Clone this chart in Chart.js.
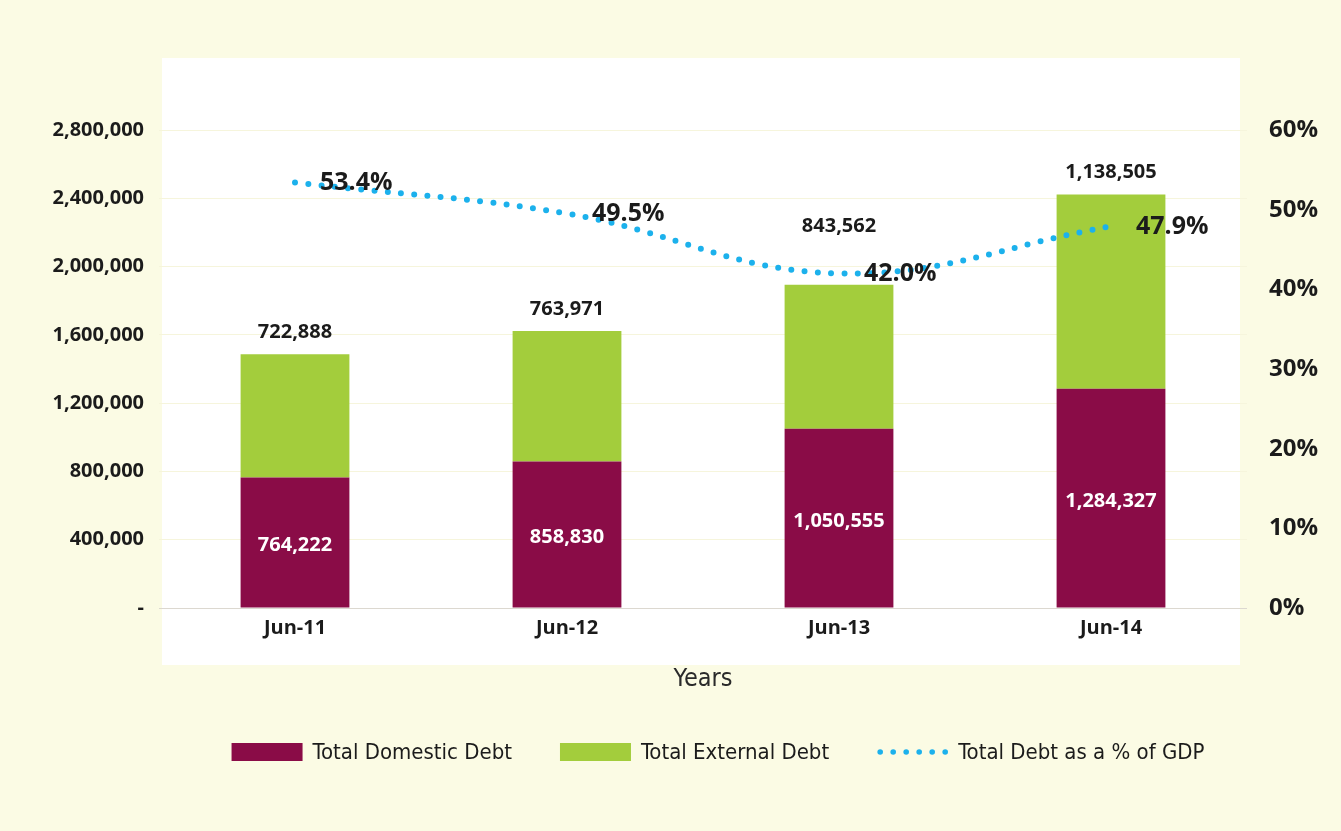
<!DOCTYPE html>
<html>
<head>
<meta charset="utf-8">
<script src="https://cdn.jsdelivr.net/npm/chart.js@4.4.1/dist/chart.umd.min.js"></script>
<style>
  html, body { margin: 0; padding: 0; background: #fbfbe4; }
  canvas { display: block; }
</style>
</head>
<body>
<canvas id="debtChart" width="1341" height="831"></canvas>
<script>
var labels = ["Jun-11", "Jun-12", "Jun-13", "Jun-14"];
var domesticDebt = [764222, 858830, 1050555, 1284327];
var externalDebt = [722888, 763971, 843562, 1138505];
var debtToGdp = [53.4, 49.5, 42.0, 47.9];
var leftTickValues = [0, 400000, 800000, 1200000, 1600000, 2000000, 2400000, 2800000];
var rightTickValues = [0, 10, 20, 30, 40, 50, 60];

var MAROON = '#8a0c47';
var GREEN = '#a3cd3c';
var CYAN = '#1cb1ec';
var TEXT = '#1b1b1b';
var NUM_FONT = '"Open Sans", "Liberation Sans", Arial, sans-serif';
var NARROW_FONT = '"Liberation Sans Narrow", "DejaVu Sans Condensed", "Arial Narrow", sans-serif';

function fmt(v) { return v.toLocaleString('en-US'); }

// pale page + white panel behind the plot
var panelBg = {
  id: 'panelBg',
  beforeDraw: function(chart) {
    var ctx = chart.ctx;
    ctx.save();
    ctx.fillStyle = '#fbfbe4';
    ctx.fillRect(0, 0, chart.width, chart.height);
    ctx.fillStyle = '#ffffff';
    ctx.fillRect(162, 58, 1078, 607);
    ctx.restore();
  }
};

// value labels on bars and line
var valueLabels = {
  id: 'valueLabels',
  afterDatasetsDraw: function(chart) {
    var ctx = chart.ctx;
    var dom = chart.getDatasetMeta(0).data;
    var ext = chart.getDatasetMeta(1).data;
    var line = chart.getDatasetMeta(2).data;
    ctx.save();
    ctx.textBaseline = 'middle';
    ctx.textAlign = 'center';
    ctx.font = 'bold 20px ' + NUM_FONT;
    ctx.fillStyle = '#ffffff';
    dom.forEach(function(bar, i) {
      ctx.fillText(fmt(domesticDebt[i]), bar.x, (bar.y + bar.base) / 2 + 3);
    });
    ctx.fillStyle = TEXT;
    ext.forEach(function(bar, i) {
      var y = bar.y - 22;
      var pt = line[i];
      if (Math.abs(pt.y - y) < 20) y = pt.y - 47;
      ctx.fillText(fmt(externalDebt[i]), bar.x, y);
    });
    ctx.font = 'bold 25px ' + NUM_FONT;
    ctx.textAlign = 'left';
    line.forEach(function(pt, i) {
      ctx.fillText(debtToGdp[i].toFixed(1) + '%', pt.x + 25, pt.y);
    });
    ctx.restore();
  }
};

// legend row under the chart
var bottomLegend = {
  id: 'bottomLegend',
  afterDraw: function(chart) {
    var ctx = chart.ctx;
    var items = chart.data.datasets;
    var y = 752;
    ctx.save();
    ctx.font = '22px ' + NARROW_FONT;
    ctx.textBaseline = 'middle';
    ctx.textAlign = 'left';
    var boxW = 71, gapText = 10, gapItem = 48;
    var total = 0;
    items.forEach(function(ds, i) {
      total += boxW + gapText + ctx.measureText(ds.label).width;
      if (i < items.length - 1) total += gapItem;
    });
    var x = 718 - total / 2;
    items.forEach(function(ds) {
      if (ds.type === 'line') {
        ctx.fillStyle = CYAN;
        for (var k = 0; k < 6; k++) {
          ctx.beginPath();
          ctx.arc(x + 3 + k * 13, y, 2.8, 0, Math.PI * 2);
          ctx.fill();
        }
      } else {
        ctx.fillStyle = ds.backgroundColor;
        ctx.fillRect(x, y - 9, boxW, 18);
      }
      x += boxW + gapText;
      ctx.fillStyle = TEXT;
      ctx.fillText(ds.label, x, y + 1);
      x += ctx.measureText(ds.label).width + gapItem;
    });
    ctx.restore();
  }
};

var ctx = document.getElementById('debtChart').getContext('2d');
var chart = new Chart(ctx, {
  data: {
    labels: labels,
    datasets: [
      {
        type: 'bar',
        label: 'Total Domestic Debt',
        data: domesticDebt,
        backgroundColor: MAROON,
        yAxisID: 'y',
        stack: 'debt',
        order: 1
      },
      {
        type: 'bar',
        label: 'Total External Debt',
        data: externalDebt,
        backgroundColor: GREEN,
        yAxisID: 'y',
        stack: 'debt',
        order: 1
      },
      {
        type: 'line',
        label: 'Total Debt as a % of GDP',
        data: debtToGdp,
        borderColor: CYAN,
        backgroundColor: CYAN,
        borderWidth: 6,
        borderDash: [0, 13.3],
        borderCapStyle: 'round',
        pointRadius: 0,
        tension: 0.4,
        fill: false,
        yAxisID: 'y1',
        order: 0
      }
    ]
  },
  options: {
    responsive: false,
    animation: false,
    devicePixelRatio: 1,
    layout: { padding: { top: 130, left: 0, right: 0, bottom: 137 } },
    datasets: {
      bar: { categoryPercentage: 1.0, barPercentage: 0.4 }
    },
    plugins: {
      legend: { display: false },
      tooltip: { enabled: false }
    },
    scales: {
      x: {
        stacked: true,
        grid: { display: false },
        border: { display: false },
        ticks: {
          padding: 0,
          color: TEXT,
          font: { family: NUM_FONT, size: 20, weight: 'bold' }
        },
        title: {
          display: true,
          text: 'Years',
          color: '#2a2a2a',
          padding: { top: 24, bottom: 0 },
          font: { family: NARROW_FONT, size: 25 }
        }
      },
      y: {
        position: 'left',
        stacked: true,
        min: 0,
        max: 2800000,
        afterBuildTicks: function(scale) {
          scale.ticks = leftTickValues.map(function(v) { return { value: v }; });
        },
        afterFit: function(scale) { scale.width = 159; },
        grid: {
          drawTicks: false,
          color: function(c) { return c.tick && c.tick.value === 0 ? '#dcd8d0' : '#f6f5dc'; },
          lineWidth: 1
        },
        border: { display: false },
        ticks: {
          padding: 15,
          color: TEXT,
          font: { family: NUM_FONT, size: 20, weight: 'bold' },
          callback: function(v) { return v === 0 ? '-' : fmt(v); }
        }
      },
      y1: {
        position: 'right',
        min: 0,
        max: 60,
        afterBuildTicks: function(scale) {
          scale.ticks = rightTickValues.map(function(v) { return { value: v }; });
        },
        afterFit: function(scale) { scale.width = 94; },
        grid: { drawOnChartArea: false, drawTicks: false },
        border: { display: false },
        ticks: {
          padding: 22,
          color: TEXT,
          font: { family: NUM_FONT, size: 24, weight: 'bold' },
          callback: function(v) { return v + '%'; }
        }
      }
    }
  },
  plugins: [panelBg, valueLabels, bottomLegend]
});
</script>
</body>
</html>
